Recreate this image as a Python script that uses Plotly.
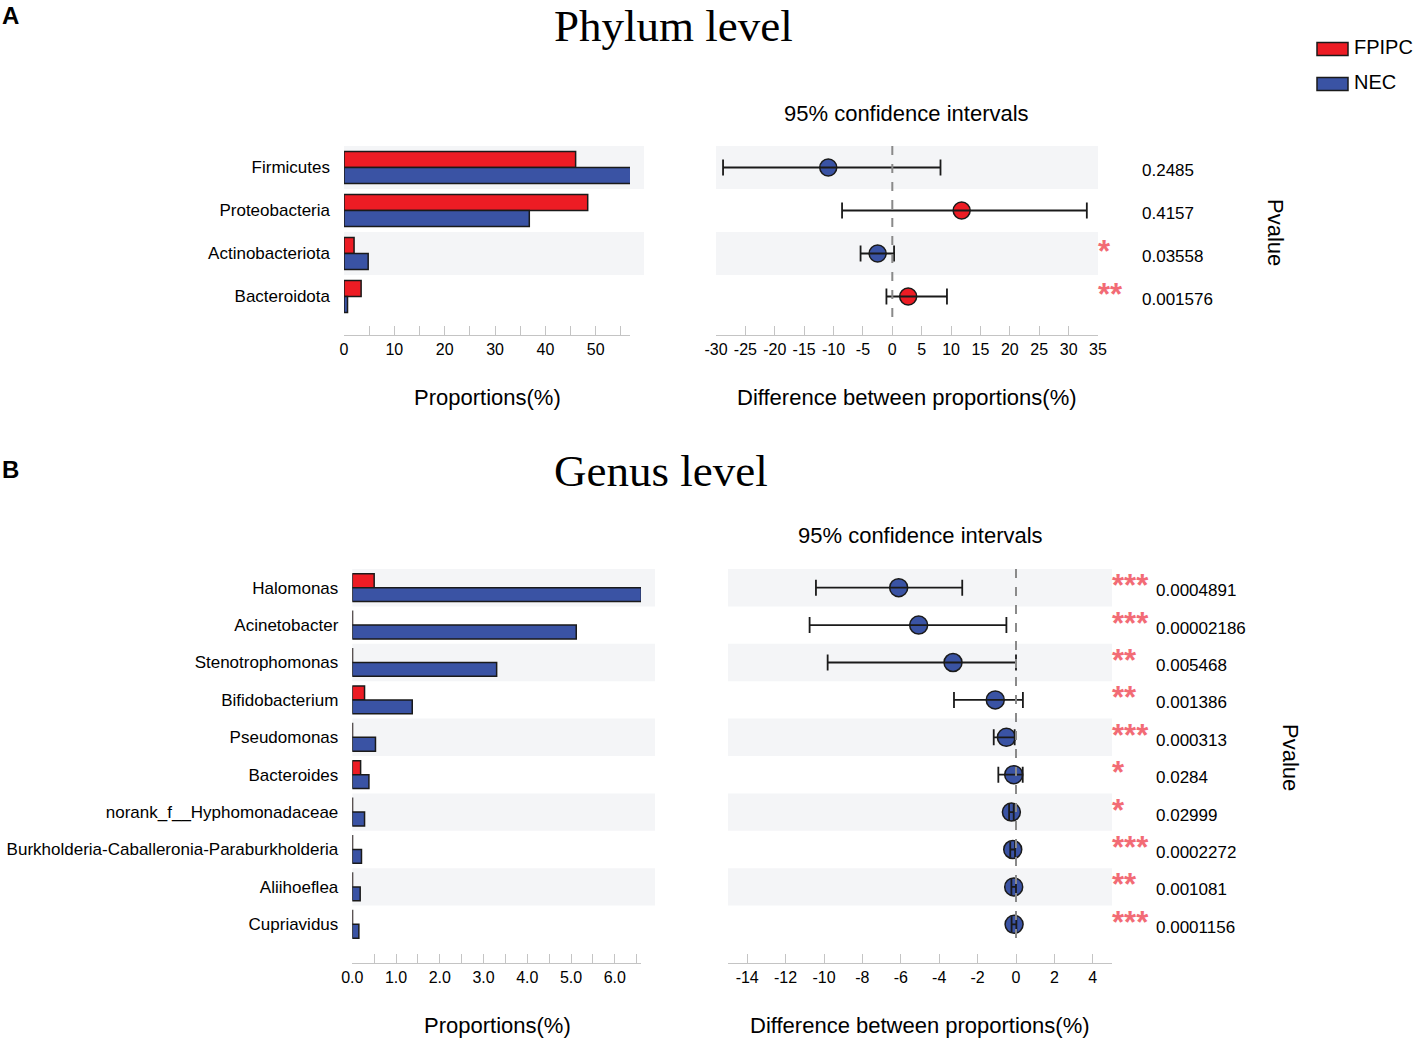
import plotly.graph_objects as go

W, H = 1417, 1040

# ---------------- data ----------------
groups = ["FPIPC", "NEC"]
group_colors = ["#ed1c24", "#3a53a4"]

phylum_names = ["Firmicutes", "Proteobacteria", "Actinobacteriota", "Bacteroidota"]
phylum_fpipc = [46.0, 48.4, 2.0, 3.4]
phylum_nec = [57.0, 36.8, 4.8, 0.7]
phylum_diff = [-10.9, 11.8, -2.5, 2.7]
phylum_lo = [-28.8, -8.55, -5.4, -1.0]
phylum_hi = [8.2, 33.1, 0.3, 9.3]
phylum_p = ["0.2485", "0.4157", "0.03558", "0.001576"]

genus_names = ["Halomonas", "Acinetobacter", "Stenotrophomonas", "Bifidobacterium",
               "Pseudomonas", "Bacteroides", "norank_f__Hyphomonadaceae",
               "Burkholderia-Caballeronia-Paraburkholderia", "Aliihoeflea", "Cupriavidus"]
genus_fpipc = [0.50, 0.005, 0.005, 0.28, 0.005, 0.19, 0.005, 0.005, 0.005, 0.005]
genus_nec = [6.61, 5.12, 3.30, 1.37, 0.53, 0.38, 0.28, 0.21, 0.18, 0.15]
genus_diff = [-6.11, -5.07, -3.28, -1.08, -0.50, -0.12, -0.24, -0.17, -0.12, -0.10]
genus_lo = [-10.42, -10.75, -9.81, -3.23, -1.16, -0.92, -0.36, -0.30, -0.24, -0.23]
genus_hi = [-2.80, -0.50, 0.0, 0.36, -0.07, 0.35, -0.12, -0.05, 0.0, 0.02]
genus_p = ["0.0004891", "0.00002186", "0.005468", "0.001386", "0.000313",
           "0.0284", "0.02999", "0.0002272", "0.001081", "0.0001156"]

phylum_bar_ticks = [0, 5, 10, 15, 20, 25, 30, 35, 40, 45, 50, 55, 56.8]
phylum_bar_labels = ["0", "", "10", "", "20", "", "30", "", "40", "", "50", "", ""]
phylum_ci_ticks = [-30, -25, -20, -15, -10, -5, 0, 5, 10, 15, 20, 25, 30, 35]
genus_bar_ticks = [0, 0.5, 1, 1.5, 2, 2.5, 3, 3.5, 4, 4.5, 5, 5.5, 6, 6.5, 6.6]
genus_bar_labels = ["0.0", "", "1.0", "", "2.0", "", "3.0", "", "4.0", "", "5.0", "", "6.0", "", ""]
genus_ci_ticks = [-15, -14, -12, -10, -8, -6, -4, -2, 0, 2, 4, 5]
genus_ci_labels = ["", "-14", "-12", "-10", "-8", "-6", "-4", "-2", "0", "2", "4", ""]

FONT = "Liberation Sans, Arial, sans-serif"
SERIF = "Liberation Serif, Times New Roman, serif"
BAND = "#f4f5f7"
STAR = "#f26b75"
EDGE = "#1a1a1a"
AX = "#c4c4c4"


def px(x):
    return x / W


def py(y):
    return 1 - y / H


def stars(p):
    v = float(p)
    if v < 0.001:
        return "***"
    if v < 0.01:
        return "**"
    if v < 0.05:
        return "*"
    return ""


fig = go.Figure()
shapes = []
annotations = []


def add_panel(names, fp, ne, diff, lo, hi, pvals, xb, yb, xc, yc,
              bar_left, bar_right, band_right_bar, ci_left, ci_right, top, bottom, band_h,
              bar_range, bar_ticks, bar_labels, ci_range, ci_ticks, ci_labels,
              msize, pval_x, star_x, dash_end):
    n = len(names)
    yr = [(bottom - top) / band_h - 0.5, -0.5]
    dom_y = [py(bottom), py(top)]
    for g, vals, col in zip(groups, [fp, ne], group_colors):
        fig.add_trace(go.Bar(
            x=vals, y=names, orientation="h", name=g,
            marker=dict(color=col, line=dict(color=EDGE, width=1.5)),
            xaxis=xb, yaxis=yb, showlegend=False))
    colors = [group_colors[1] if d < 0 else group_colors[0] for d in diff]
    fig.add_trace(go.Scatter(
        x=diff, y=names, mode="markers",
        marker=dict(size=msize, color=colors, line=dict(color=EDGE, width=1.5)),
        xaxis=xc, yaxis=yc, showlegend=False))
    fig.add_trace(go.Scatter(
        x=diff, y=names, mode="markers",
        marker=dict(size=1, color="rgba(0,0,0,0)"),
        error_x=dict(type="data", symmetric=False,
                     array=[h - d for h, d in zip(hi, diff)],
                     arrayminus=[d - l for d, l in zip(diff, lo)],
                     color=EDGE, thickness=1.8, width=8),
        xaxis=xc, yaxis=yc, showlegend=False))

    xbk = "xaxis" + xb[1:]
    ybk = "yaxis" + yb[1:]
    xck = "xaxis" + xc[1:]
    yck = "yaxis" + yc[1:]
    common_x = dict(showgrid=False, zeroline=False, showline=True, linecolor=AX,
                    linewidth=1, ticks="inside", ticklen=9, tickcolor=AX, tickwidth=1,
                    tickfont=dict(size=16, color="black", family=FONT),
                    fixedrange=True, automargin=False)
    common_y = dict(domain=dom_y, range=yr, type="category", categoryorder="array",
                    categoryarray=names, showgrid=False, zeroline=False, showline=False,
                    ticks="", automargin=False, fixedrange=True)
    fig.update_layout(**{
        xbk: dict(common_x, domain=[px(bar_left), px(bar_right)], range=bar_range,
                  tickvals=bar_ticks, ticktext=bar_labels, anchor=yb),
        ybk: dict(common_y, ticklabelstandoff=13, anchor=xb,
                  tickfont=dict(size=17, color="black", family=FONT)),
        xck: dict(common_x, domain=[px(ci_left), px(ci_right)], range=ci_range,
                  tickvals=ci_ticks, ticktext=ci_labels, anchor=yc),
        yck: dict(common_y, showticklabels=False, anchor=xc),
    })
    for i in range(n):
        if i % 2 == 0:
            shapes.append(dict(type="rect", xref="paper", yref=yb, x0=px(bar_left),
                               x1=px(band_right_bar), y0=i - 0.5, y1=i + 0.5,
                               fillcolor=BAND, line=dict(width=0), layer="below"))
            shapes.append(dict(type="rect", xref="paper", yref=yc, x0=px(ci_left),
                               x1=px(ci_right), y0=i - 0.5, y1=i + 0.5,
                               fillcolor=BAND, line=dict(width=0), layer="below"))
        annotations.append(dict(xref="paper", yref=yc, x=px(pval_x), y=i, text=pvals[i],
                                xanchor="left", yanchor="middle", showarrow=False, yshift=-3,
                                font=dict(size=17, color="black", family=FONT)))
        s = stars(pvals[i])
        if s:
            annotations.append(dict(xref="paper", yref=yc, x=px(star_x), y=i, text="<b>" + s + "</b>",
                                    xanchor="left", yanchor="middle", showarrow=False, yshift=2,
                                    font=dict(size=31, color=STAR, family=FONT)))
    shapes.append(dict(type="line", xref=xc, yref=yc, x0=0, x1=0, y0=-0.5, y1=dash_end,
                       line=dict(color="#8a8a8a", width=2, dash="dash"), layer="above"))


# Phylum
add_panel(phylum_names, phylum_fpipc, phylum_nec, phylum_diff, phylum_lo, phylum_hi, phylum_p,
          "x", "y", "x2", "y2",
          344, 630, 644, 716, 1098, 146, 335, 43,
          [0, 56.8], phylum_bar_ticks, phylum_bar_labels,
          [-30, 35], phylum_ci_ticks, [str(t) for t in phylum_ci_ticks],
          17, 1140, 1096, 3.6)
# Genus
add_panel(genus_names, genus_fpipc, genus_nec, genus_diff, genus_lo, genus_hi, genus_p,
          "x3", "y3", "x4", "y4",
          352.3, 641, 655, 728, 1112, 569, 963, 37.4,
          [0, 6.6], genus_bar_ticks, genus_bar_labels,
          [-15, 5], genus_ci_ticks, genus_ci_labels,
          18, 1154, 1110, 9.6)


def txt(x, y, t, size, **kw):
    d = dict(xref="paper", yref="paper", x=px(x), y=py(y), text=t, showarrow=False,
             xanchor=kw.pop("xanchor", "center"), yanchor=kw.pop("yanchor", "middle"),
             font=dict(size=size, color="black", family=kw.pop("family", FONT)))
    d.update(kw)
    annotations.append(d)


txt(10, 16, "<b>A</b>", 24)
txt(10, 470, "<b>B</b>", 24)
txt(673, 0, "Phylum level", 45, family=SERIF, yanchor="top", borderpad=0)
txt(661, 471, "Genus level", 45, family=SERIF)
txt(906, 113, "95% confidence intervals", 22)
txt(920, 535, "95% confidence intervals", 22)
txt(487, 397, "Proportions(%)", 22)
txt(907, 397, "Difference between proportions(%)", 22)
txt(497, 1025, "Proportions(%)", 22)
txt(920, 1025, "Difference between proportions(%)", 22)
txt(1275, 232, "Pvalue", 22, textangle=90)
txt(1291, 757, "Pvalue", 22, textangle=90)

# Legend
for i, (g, c) in enumerate(zip(groups, group_colors)):
    yc_ = 49 + i * 35
    shapes.append(dict(type="rect", xref="paper", yref="paper", x0=px(1317), x1=px(1348),
                       y0=py(yc_ + 6.5), y1=py(yc_ - 6.5), fillcolor=c,
                       line=dict(color=EDGE, width=1.5)))
    txt(1353, yc_ - 2, g, 20, xanchor="left", borderpad=0)

fig.update_layout(
    width=W, height=H, margin=dict(l=0, r=0, t=0, b=0, autoexpand=False),
    paper_bgcolor="white", plot_bgcolor="rgba(0,0,0,0)",
    barmode="group", bargap=0.26, showlegend=False,
    shapes=shapes, annotations=annotations,
    font=dict(family=FONT, color="black"),
)
fig.write_html("out.html", config={"displayModeBar": False},
               post_script="document.body.style.margin='0';document.body.style.overflow='hidden';")
